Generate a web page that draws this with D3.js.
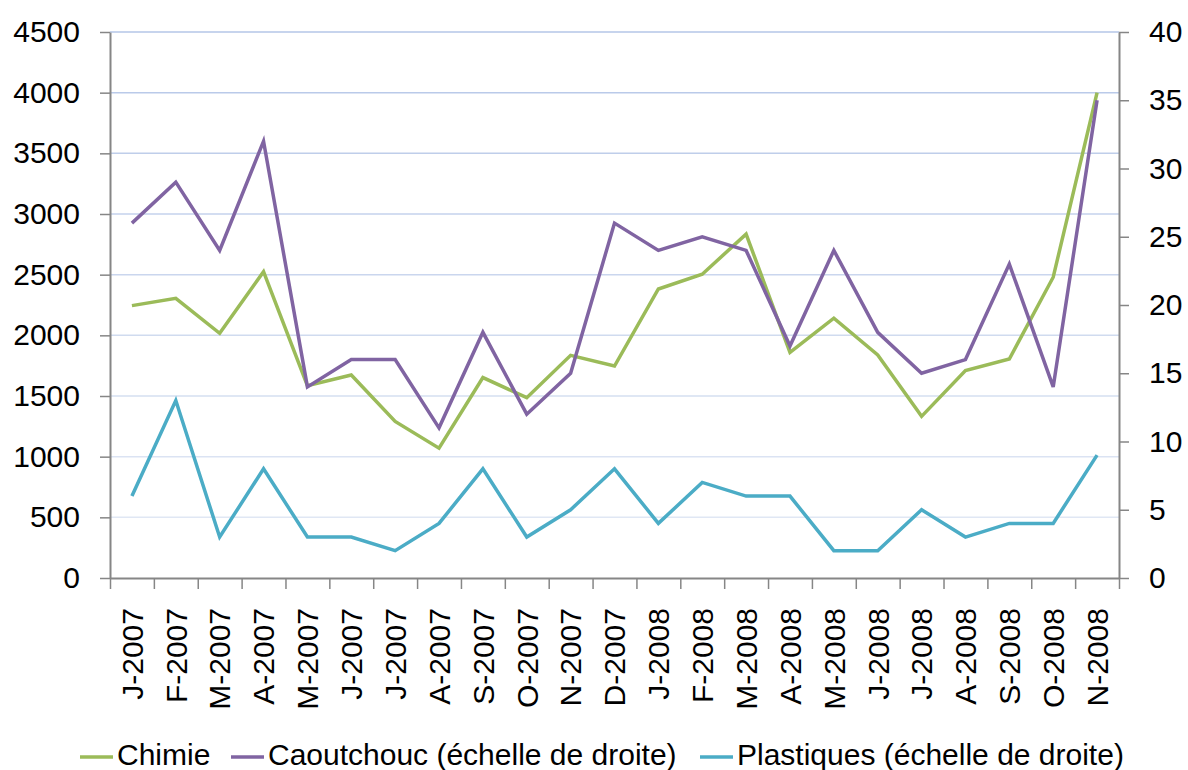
<!DOCTYPE html>
<html>
<head>
<meta charset="utf-8">
<script src="https://cdn.jsdelivr.net/npm/d3@7"></script>
<style>
  html, body { margin: 0; padding: 0; background: #fff; }
  svg { display: block; font-family: "Liberation Sans", Arial, sans-serif; }
</style>
</head>
<body>
<svg width="1188" height="770"></svg>
<script>
// month labels (one per point)
var months = ["J-2007","F-2007","M-2007","A-2007","M-2007","J-2007","J-2007","A-2007","S-2007","O-2007","N-2007","D-2007",
              "J-2008","F-2008","M-2008","A-2008","M-2008","J-2008","J-2008","A-2008","S-2008","O-2008","N-2008"]

// left scale
var chimie = [2245,2305,2017,2525,1585,1673,1290,1070,1652,1486,1835,1747,2382,2504,2834,1860,2141,1838,1332,1710,1805,2479,4000]
// right scale
var caoutchouc = [26,29,24,32,14,16,16,11,18,12,15,26,24,25,24,17,24,18,15,16,23,14,35]
var plastiques = [6,13,3,8,3,3,2,4,8,3,5,8,4,7,6,6,2,2,5,3,4,4,9]

var leftTicks = [0,500,1000,1500,2000,2500,3000,3500,4000,4500]
var rightTicks = [0,5,10,15,20,25,30,35,40]

var seriesNames = ["Chimie", "Caoutchouc (échelle de droite)", "Plastiques (échelle de droite)"]
var seriesColors = ["#9bbb59", "#8064a2", "#4bacc6"]

var plotLeft = 110, plotRight = 1119, plotTop = 32, plotBottom = 578
var axisColor = "#868686"

const svg = d3.select("svg")

var x = d3.scaleLinear()
    .domain([0, months.length])
    .range([plotLeft, plotRight])

var yL = d3.scaleLinear()
    .domain([0, 4500])
    .range([plotBottom, plotTop])

var yR = d3.scaleLinear()
    .domain([0, 40])
    .range([plotBottom, plotTop])

// gridlines, fading lighter toward the bottom
var gridColor = d3.scaleLinear()
    .domain([0, 4500])
    .range(["#e6ebf6", "#b4c6e7"])

svg.append("g")
  .selectAll("line")
  .data(leftTicks.filter(d => d > 0))
  .enter()
  .append("line")
    .attr("x1", plotLeft)
    .attr("x2", plotRight)
    .attr("y1", d => yL(d))
    .attr("y2", d => yL(d))
    .attr("stroke", d => gridColor(d))
    .attr("stroke-width", 1.5)

// axes
function styleAxis(g) {
  g.selectAll(".domain").attr("stroke", axisColor).attr("stroke-width", 2)
  g.selectAll(".tick line").attr("stroke", axisColor).attr("stroke-width", 1.5)
  g.selectAll("text").attr("fill", "#000").attr("font-size", 30)
    .attr("font-family", "'Liberation Sans', Arial, sans-serif")
}

svg.append("g")
  .attr("transform", `translate(${plotLeft},0)`)
  .call(d3.axisLeft(yL).tickValues(leftTicks).tickSize(10).tickSizeOuter(0).tickPadding(20).tickFormat(d3.format("d")))
  .call(styleAxis)

svg.append("g")
  .attr("transform", `translate(${plotRight},0)`)
  .call(d3.axisRight(yR).tickValues(rightTicks).tickSize(10).tickSizeOuter(0).tickPadding(20))
  .call(styleAxis)

svg.append("g")
  .attr("transform", `translate(0,${plotBottom})`)
  .call(d3.axisBottom(x).tickValues(d3.range(months.length + 1)).tickSize(11).tickSizeOuter(0).tickFormat(""))
  .call(styleAxis)

// rotated month labels
svg.append("g")
  .selectAll("text")
  .data(months)
  .enter()
  .append("text")
    .attr("transform", (d, i) => `translate(${x(i + 0.5)},608) rotate(-90)`)
    .attr("text-anchor", "end")
    .attr("dy", "0.36em")
    .attr("font-size", 30)
    .attr("fill", "#000")
    .text(d => d)

// lines
var lineL = d3.line().x((d, i) => x(i + 0.5)).y(d => yL(d))
var lineR = d3.line().x((d, i) => x(i + 0.5)).y(d => yR(d))

var gLines = svg.append("g").attr("fill", "none").attr("stroke-width", 3.5).attr("stroke-linejoin", "miter")

gLines.append("path").attr("d", lineR(plastiques)).attr("stroke", seriesColors[2])
gLines.append("path").attr("d", lineL(chimie)).attr("stroke", seriesColors[0])
gLines.append("path").attr("d", lineR(caoutchouc)).attr("stroke", seriesColors[1])

// legend
var legendX = [80, 231, 700]
var leg = svg.append("g")
  .selectAll("g")
  .data(seriesNames)
  .enter()
  .append("g")
    .attr("transform", (d, i) => `translate(${legendX[i]},0)`)

leg.append("line")
  .attr("x1", 0).attr("x2", 33)
  .attr("y1", 757).attr("y2", 757)
  .attr("stroke", (d, i) => seriesColors[i])
  .attr("stroke-width", 3.5)

leg.append("text")
  .attr("x", 37)
  .attr("y", 765)
  .attr("font-size", 30)
  .attr("fill", "#000")
  .text(d => d)
</script>
</body>
</html>
